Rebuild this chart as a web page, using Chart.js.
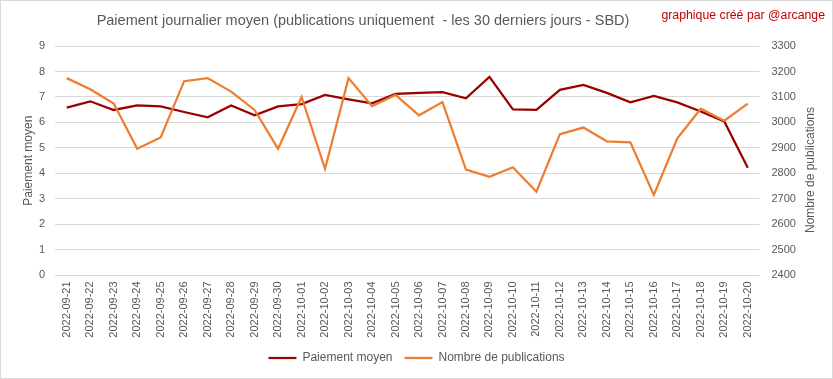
<!DOCTYPE html>
<html>
<head>
<meta charset="utf-8">
<script src="https://cdn.jsdelivr.net/npm/chart.js@4"></script>
<style>
  html, body { margin: 0; padding: 0; background: #fff; }
  #wrap { position: relative; width: 833px; height: 379px; overflow: hidden; }
  #frame { position: absolute; left: 0; top: 0; width: 833px; height: 379px; box-sizing: border-box; border: 1px solid #d9d9d9; pointer-events: none; }
  #title { position: absolute; top: 12px; left: 363px; transform: translateX(-50%); white-space: pre; font-family: "Liberation Sans", Arial, sans-serif; font-size: 14.5px; color: #595959; }
  #credit { position: absolute; top: 8px; right: 8px; white-space: pre; font-family: "Liberation Sans", Arial, sans-serif; font-size: 12.3px; color: #c00000; }
  #ytitle2 { position: absolute; left: 810px; top: 170px; transform: translate(-50%, -50%) rotate(-90deg); white-space: pre; font-family: "Liberation Sans", Arial, sans-serif; font-size: 12px; color: #595959; }
  canvas { position: absolute; left: 0; top: 0; }
</style>
</head>
<body>
<div id="wrap">
  <canvas id="c" width="833" height="379"></canvas>
  <div id="title">Paiement journalier moyen (publications uniquement  - les 30 derniers jours - SBD)</div>
  <div id="credit">graphique créé par @arcange</div>
  <div id="ytitle2">Nombre de publications</div>
  <div id="frame"></div>
</div>
<script>
const dates = [
  "2022-09-21","2022-09-22","2022-09-23","2022-09-24","2022-09-25","2022-09-26","2022-09-27","2022-09-28","2022-09-29","2022-09-30",
  "2022-10-01","2022-10-02","2022-10-03","2022-10-04","2022-10-05","2022-10-06","2022-10-07","2022-10-08","2022-10-09","2022-10-10",
  "2022-10-11","2022-10-12","2022-10-13","2022-10-14","2022-10-15","2022-10-16","2022-10-17","2022-10-18","2022-10-19","2022-10-20"
];
const paiementMoyen = [6.58, 6.83, 6.49, 6.67, 6.63, 6.41, 6.20, 6.67, 6.28, 6.63, 6.72, 7.08, 6.91, 6.75, 7.12, 7.16, 7.19, 6.95, 7.79, 6.51, 6.49, 7.28, 7.47, 7.16, 6.79, 7.04, 6.79, 6.43, 6.04, 4.22];
const nombrePublications = [3174, 3130, 3074, 2897, 2941, 3162, 3174, 3121, 3049, 2897, 3100, 2818, 3174, 3064, 3108, 3028, 3080, 2815, 2787, 2824, 2728, 2954, 2980, 2926, 2922, 2716, 2938, 3054, 3007, 3074];
const leftTicks = [0,1,2,3,4,5,6,7,8,9];
const rightTicks = [2400,2500,2600,2700,2800,2900,3000,3100,3200,3300];

const FONT = "'Liberation Sans', Arial, sans-serif";
const GREY = "#595959";
const GRID = "#d9d9d9";
const RED = "#990000";
const ORANGE = "#ed7d31";

new Chart(document.getElementById("c"), {
  type: "line",
  data: {
    labels: dates,
    datasets: [
      { label: "Paiement moyen", data: paiementMoyen, yAxisID: "y", borderColor: RED, backgroundColor: RED, borderWidth: 2.25, pointRadius: 0, tension: 0, order: 1 },
      { label: "Nombre de publications", data: nombrePublications, yAxisID: "y1", borderColor: ORANGE, backgroundColor: ORANGE, borderWidth: 2.25, pointRadius: 0, tension: 0, order: 0 }
    ]
  },
  options: {
    responsive: false,
    animation: false,
    layout: { padding: { top: 46, bottom: 5, left: 0, right: 0 } },
    plugins: {
      tooltip: { enabled: false },
      title: { display: false },
      legend: {
        position: "bottom",
        labels: {
          usePointStyle: true, pointStyle: "line", pointStyleWidth: 28,
          sort: (a, b) => a.datasetIndex - b.datasetIndex,
          padding: 12, color: GREY, font: { family: FONT, size: 12 }
        }
      }
    },
    scales: {
      x: {
        offset: true,
        grid: { display: false, drawTicks: false },
        border: { display: false },
        ticks: { minRotation: 90, maxRotation: 90, autoSkip: false, padding: 6, color: GREY, font: { family: FONT, size: 11 } },
        afterFit: (s) => { s.height = 64.6; }
      },
      y: {
        position: "left", min: 0, max: 9,
        afterBuildTicks: (s) => { s.ticks = leftTicks.map(v => ({ value: v })); },
        grid: { color: GRID, drawTicks: false, lineWidth: 1 },
        border: { display: false },
        ticks: { padding: 10, color: GREY, font: { family: FONT, size: 11 } },
        title: { display: true, text: "Paiement moyen", color: GREY, font: { family: FONT, size: 12 }, padding: { top: 21, bottom: 0 } },
        afterFit: (s) => { s.width = 55; }
      },
      y1: {
        position: "right", min: 2400, max: 3300,
        afterBuildTicks: (s) => { s.ticks = rightTicks.map(v => ({ value: v })); },
        grid: { display: false, drawTicks: false },
        border: { display: false },
        ticks: { padding: 12, color: GREY, font: { family: FONT, size: 11 }, callback: (v) => String(v) },
        title: { display: false },
        afterFit: (s) => { s.width = 73.5; }
      }
    }
  }
});
</script>
</body>
</html>
